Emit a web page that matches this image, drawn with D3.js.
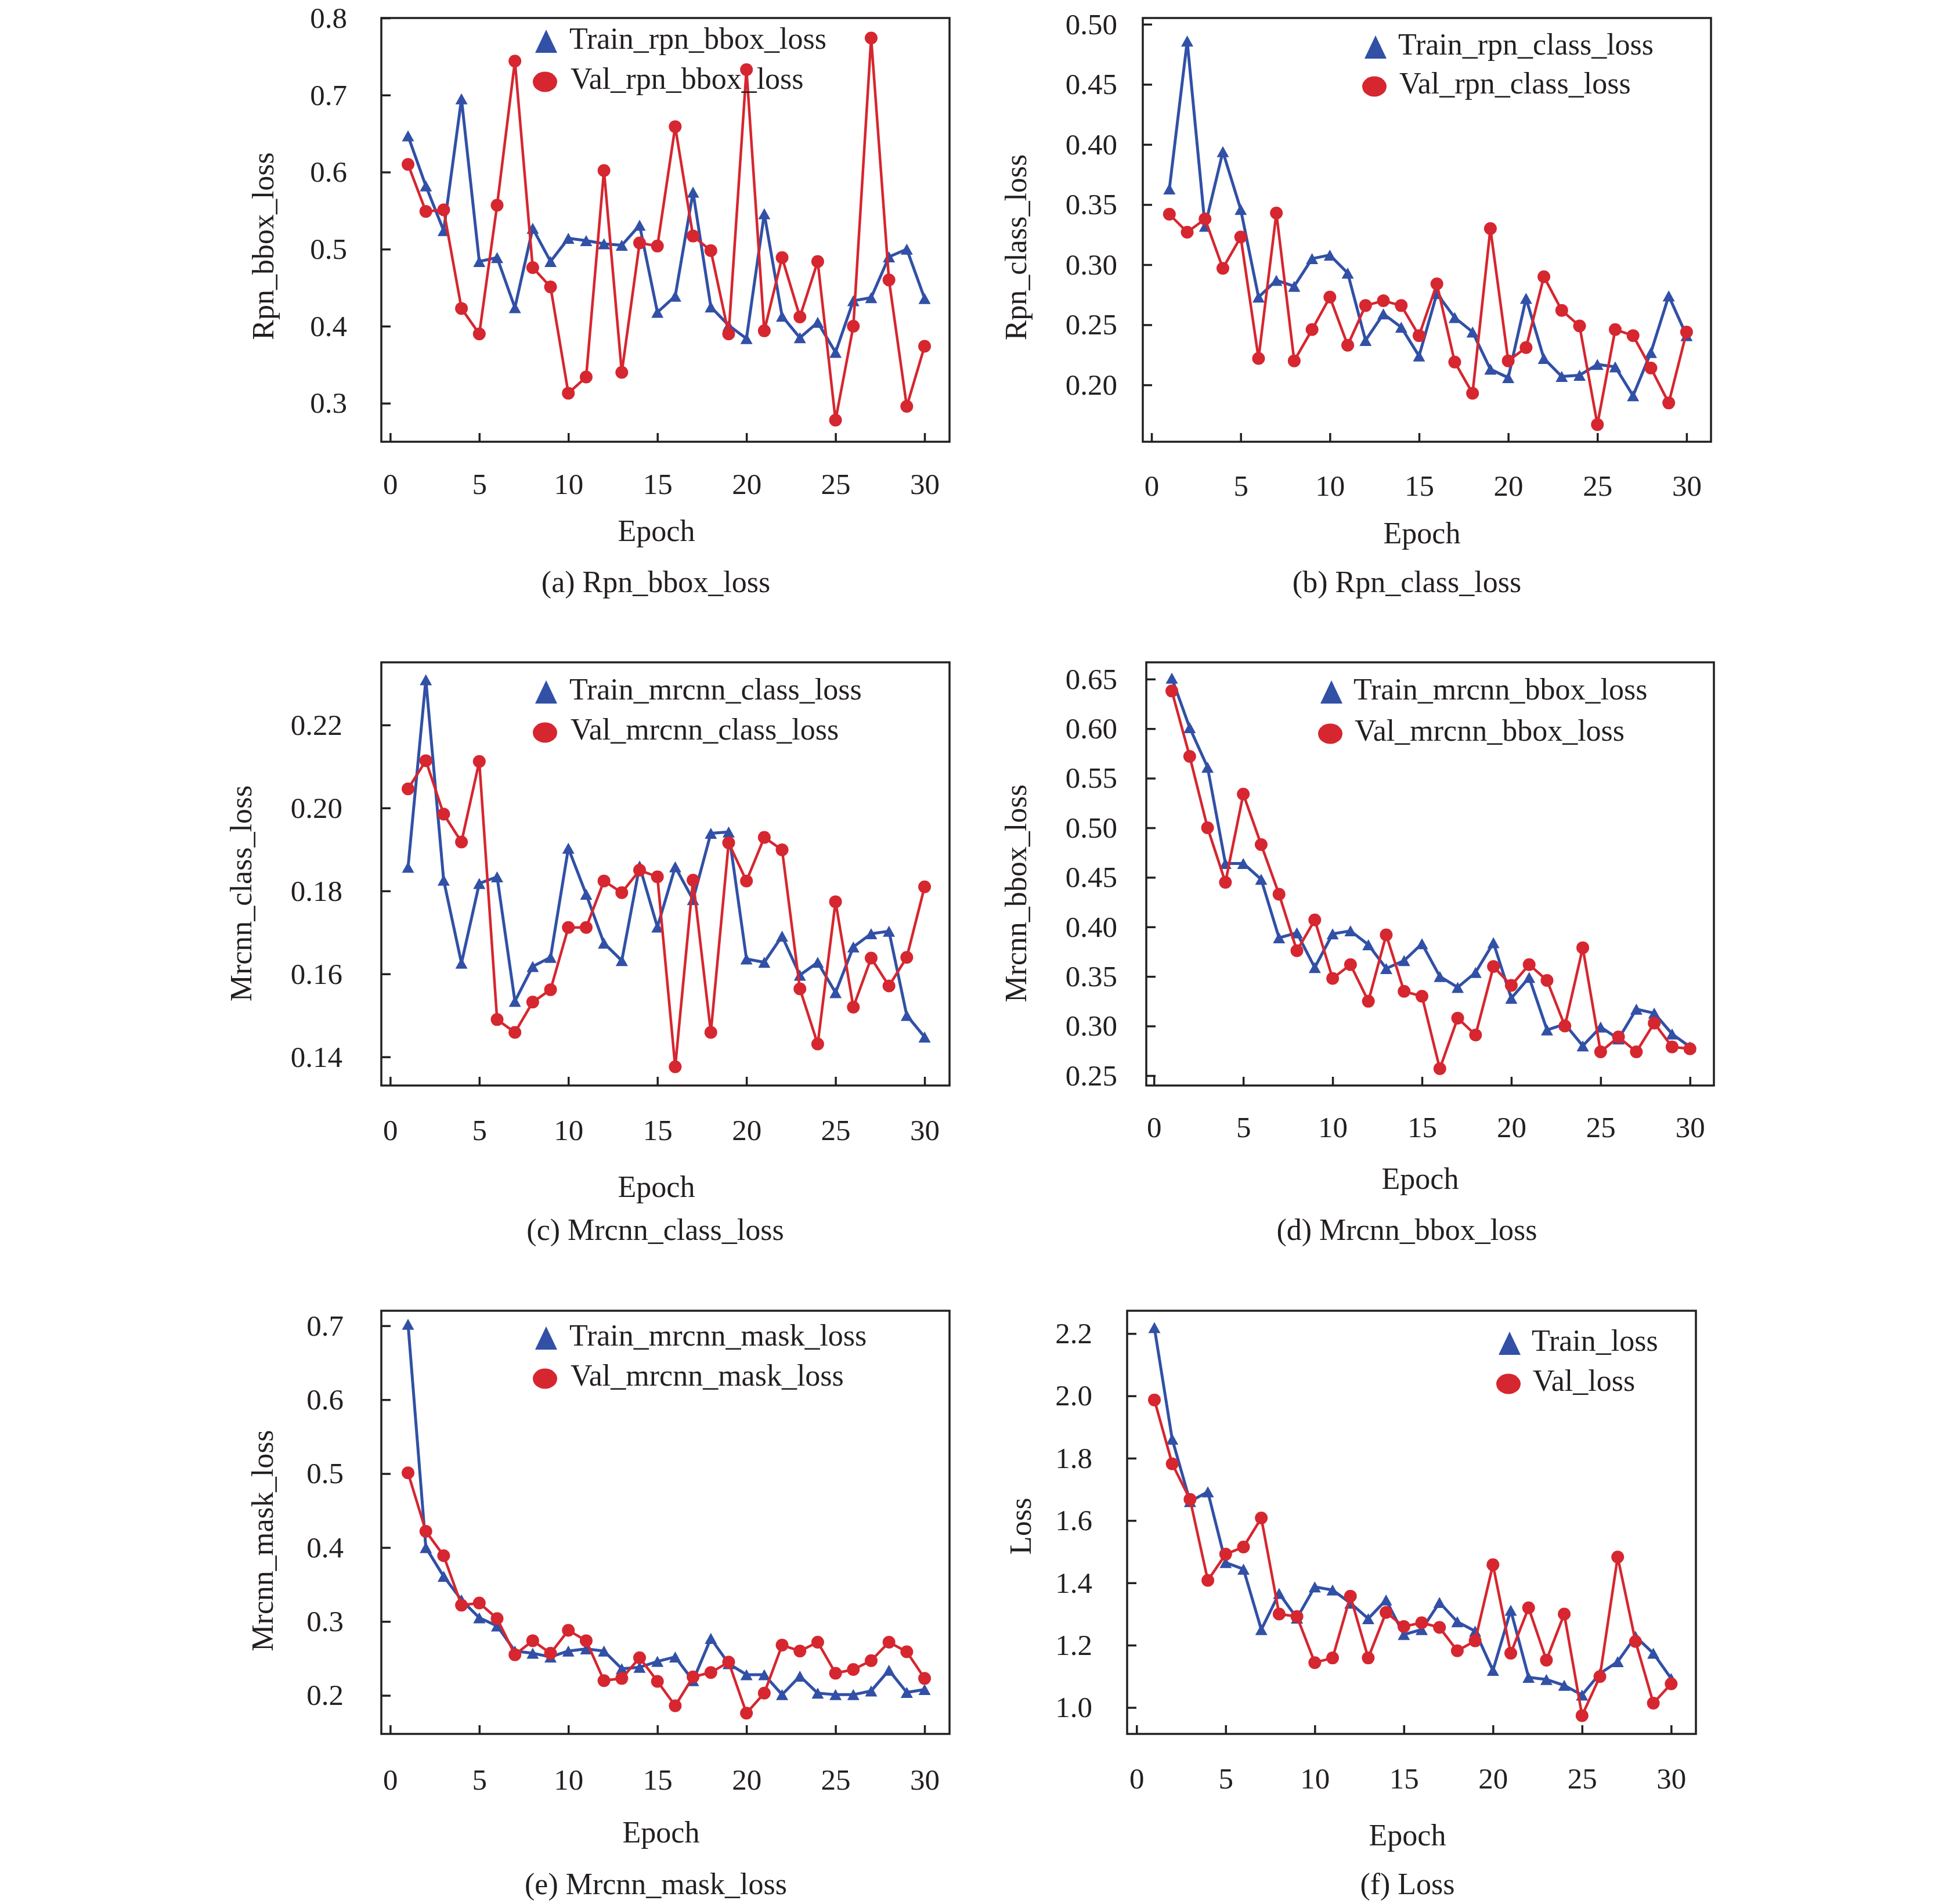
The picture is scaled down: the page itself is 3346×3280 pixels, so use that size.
<!DOCTYPE html>
<html><head><meta charset="utf-8">
<script src="https://cdn.jsdelivr.net/npm/d3@7"></script>
<style>html,body{margin:0;padding:0;background:#fff}</style>
</head><body>
<svg id="chart" width="3346" height="3280"></svg>
<script>
const epochs = d3.range(1, 31);
const xTicks = [0, 5, 10, 15, 20, 25, 30];

const trainRpnBbox = [0.647,0.582,0.524,0.695,0.484,0.489,0.424,0.527,0.484,0.514,0.511,0.507,0.505,0.531,0.418,0.439,0.574,0.425,0.401,0.384,0.546,0.413,0.385,0.405,0.366,0.433,0.437,0.490,0.500,0.436];
const valRpnBbox   = [0.610,0.549,0.551,0.423,0.390,0.557,0.744,0.476,0.451,0.313,0.334,0.602,0.340,0.508,0.504,0.659,0.517,0.498,0.390,0.733,0.394,0.489,0.412,0.484,0.278,0.400,0.774,0.460,0.296,0.374];

const trainRpnClass = [0.363,0.486,0.332,0.394,0.346,0.273,0.287,0.282,0.305,0.308,0.293,0.237,0.259,0.248,0.224,0.276,0.256,0.244,0.213,0.206,0.272,0.222,0.207,0.208,0.217,0.215,0.191,0.227,0.274,0.241];
const valRpnClass   = [0.342,0.327,0.338,0.297,0.323,0.222,0.343,0.220,0.246,0.273,0.233,0.266,0.270,0.266,0.241,0.284,0.219,0.193,0.330,0.220,0.231,0.290,0.262,0.249,0.167,0.246,0.241,0.214,0.185,0.244];

const trainMrcnnClass = [0.1857,0.2309,0.1826,0.1626,0.1818,0.1834,0.1534,0.1618,0.1640,0.1903,0.1792,0.1674,0.1632,0.1860,0.1713,0.1858,0.1779,0.1939,0.1942,0.1636,0.1628,0.1691,0.1597,0.1628,0.1555,0.1665,0.1697,0.1703,0.1500,0.1448];
const valMrcnnClass   = [0.2046,0.2114,0.1985,0.1918,0.2112,0.1490,0.1459,0.1532,0.1562,0.1712,0.1712,0.1824,0.1796,0.1850,0.1834,0.1376,0.1826,0.1459,0.1916,0.1824,0.1929,0.1899,0.1564,0.1431,0.1774,0.1520,0.1638,0.1571,0.1640,0.1810];

const trainMrcnnBbox = [0.651,0.601,0.561,0.464,0.464,0.448,0.389,0.394,0.359,0.393,0.396,0.382,0.358,0.366,0.383,0.350,0.339,0.354,0.384,0.328,0.349,0.296,0.302,0.280,0.299,0.287,0.317,0.313,0.292,0.279];
const valMrcnnBbox   = [0.638,0.572,0.500,0.445,0.534,0.483,0.433,0.376,0.407,0.348,0.362,0.325,0.392,0.335,0.330,0.257,0.308,0.291,0.360,0.341,0.362,0.346,0.300,0.379,0.274,0.289,0.274,0.303,0.279,0.277];

const trainMrcnnMask = [0.702,0.400,0.361,0.329,0.305,0.294,0.260,0.257,0.252,0.260,0.263,0.260,0.236,0.238,0.246,0.252,0.220,0.277,0.243,0.228,0.228,0.201,0.226,0.203,0.201,0.201,0.206,0.234,0.204,0.208];
const valMrcnnMask   = [0.501,0.422,0.389,0.322,0.325,0.304,0.255,0.274,0.257,0.288,0.274,0.220,0.223,0.251,0.219,0.186,0.225,0.231,0.245,0.176,0.203,0.268,0.260,0.272,0.230,0.235,0.247,0.272,0.259,0.223];

const trainLoss = [2.219,1.861,1.661,1.692,1.465,1.444,1.250,1.366,1.287,1.387,1.377,1.335,1.285,1.345,1.234,1.250,1.337,1.275,1.245,1.119,1.312,1.097,1.090,1.071,1.040,1.109,1.147,1.228,1.174,1.093];
const valLoss   = [1.987,1.782,1.668,1.408,1.492,1.515,1.608,1.300,1.292,1.144,1.159,1.357,1.159,1.305,1.260,1.272,1.257,1.182,1.214,1.458,1.174,1.320,1.152,1.300,0.974,1.099,1.483,1.212,1.014,1.076];

const yTicksA = [0.3,0.4,0.5,0.6,0.7,0.8];
const yTicksB = [0.20,0.25,0.30,0.35,0.40,0.45,0.50];
const yTicksC = [0.14,0.16,0.18,0.20,0.22];
const yTicksD = [0.25,0.30,0.35,0.40,0.45,0.50,0.55,0.60,0.65];
const yTicksE = [0.2,0.3,0.4,0.5,0.6,0.7];
const yTicksF = [1.0,1.2,1.4,1.6,1.8,2.0,2.2];

const panels = [
  {train: trainRpnBbox, val: valRpnBbox, trainName: "Train_rpn_bbox_loss", valName: "Val_rpn_bbox_loss",
   yLabel: "Rpn_bbox_loss", caption: "(a) Rpn_bbox_loss", yTicks: yTicksA, fmt: ".1f",
   xDomain: [-0.5, 31.4], yDomain: [0.25, 0.80], L: 657, R: 1636, T: 31, B: 761,
   yPad: 59, xBase: 90, yTitle: [471, 424], epoch: [1131, 932], cap: [1130, 1020],
   lg: {mx: 941, tx: 981, y1: 71, y2: 141}},
  {train: trainRpnClass, val: valRpnClass, trainName: "Train_rpn_class_loss", valName: "Val_rpn_class_loss",
   yLabel: "Rpn_class_loss", caption: "(b) Rpn_class_loss", yTicks: yTicksB, fmt: ".2f",
   xDomain: [-0.49, 31.37], yDomain: [0.1527, 0.5052], L: 1969, R: 2948, T: 31, B: 761,
   yPad: 44, xBase: 93, yTitle: [1768, 426], epoch: [2450, 936], cap: [2424, 1020],
   lg: {mx: 2370, tx: 2409, y1: 81, y2: 149}},
  {train: trainMrcnnClass, val: valMrcnnClass, trainName: "Train_mrcnn_class_loss", valName: "Val_mrcnn_class_loss",
   yLabel: "Mrcnn_class_loss", caption: "(c) Mrcnn_class_loss", yTicks: yTicksC, fmt: ".2f",
   xDomain: [-0.5, 31.4], yDomain: [0.1331, 0.2351], L: 657, R: 1636, T: 1141, B: 1870,
   yPad: 67, xBase: 94, yTitle: [433, 1539], epoch: [1131, 2062], cap: [1129, 2136],
   lg: {mx: 941, tx: 981, y1: 1192, y2: 1262}},
  {train: trainMrcnnBbox, val: valMrcnnBbox, trainName: "Train_mrcnn_bbox_loss", valName: "Val_mrcnn_bbox_loss",
   yLabel: "Mrcnn_bbox_loss", caption: "(d) Mrcnn_bbox_loss", yTicks: yTicksD, fmt: ".2f",
   xDomain: [-0.43, 31.34], yDomain: [0.240, 0.6669], L: 1975, R: 2953, T: 1141, B: 1870,
   yPad: 50, xBase: 89, yTitle: [1768, 1539], epoch: [2447, 2048], cap: [2424, 2136],
   lg: {mx: 2294, tx: 2332, y1: 1192, y2: 1264}},
  {train: trainMrcnnMask, val: valMrcnnMask, trainName: "Train_mrcnn_mask_loss", valName: "Val_mrcnn_mask_loss",
   yLabel: "Mrcnn_mask_loss", caption: "(e) Mrcnn_mask_loss", yTicks: yTicksE, fmt: ".1f",
   xDomain: [-0.5, 31.4], yDomain: [0.1479, 0.7203], L: 657, R: 1636, T: 2258, B: 2987,
   yPad: 65, xBase: 96, yTitle: [470, 2654], epoch: [1139, 3174], cap: [1130, 3263],
   lg: {mx: 941, tx: 981, y1: 2305, y2: 2375}},
  {train: trainLoss, val: valLoss, trainName: "Train_loss", valName: "Val_loss",
   yLabel: "Loss", caption: "(f) Loss", yTicks: yTicksF, fmt: ".1f",
   xDomain: [-0.53, 31.39], yDomain: [0.9152, 2.2732], L: 1942, R: 2922, T: 2258, B: 2987,
   yPad: 60, xBase: 94, yTitle: [1776, 2629], epoch: [2425, 3179], cap: [2425, 3263],
   lg: {mx: 2601, tx: 2639, y1: 2314, y2: 2384}}
];

const BLUE = "#3150a6", RED = "#d6262f", INK = "#231f20";
const FONT = "'Liberation Serif', 'Times New Roman', serif";
const FS = 52, TFS = 51;

const svg = d3.select("#chart");
svg.append("rect").attr("width", 3346).attr("height", 3280).attr("fill", "#fff");

function triPath(w, h) {
  return `M0,${-h/2}L${w/2},${h/2}L${-w/2},${h/2}Z`;
}

panels.forEach(p => {
  const g = svg.append("g");
  const x = d3.scaleLinear().domain(p.xDomain).range([p.L, p.R]);
  const y = d3.scaleLinear().domain(p.yDomain).range([p.B, p.T]);

  const xAxis = d3.axisBottom(x).tickValues(xTicks).tickSizeInner(-15).tickSizeOuter(0)
    .tickPadding(p.xBase - 0.71 * TFS).tickFormat(d3.format("d"));
  const gx = g.append("g").attr("transform", `translate(0,${p.B})`).call(xAxis);
  const yAxis = d3.axisLeft(y).tickValues(p.yTicks).tickSizeInner(-16).tickSizeOuter(0)
    .tickPadding(p.yPad).tickFormat(d3.format(p.fmt));
  const gy = g.append("g").attr("transform", `translate(${p.L},0)`).call(yAxis);
  [gx, gy].forEach(a => {
    a.select(".domain").remove();
    a.selectAll("line").attr("stroke", INK).attr("stroke-width", 3.5);
    a.selectAll("text").attr("fill", INK).style("font-family", FONT).style("font-size", TFS + "px");
  });

  g.append("rect").attr("x", p.L).attr("y", p.T).attr("width", p.R - p.L).attr("height", p.B - p.T)
    .attr("fill", "none").attr("stroke", INK).attr("stroke-width", 3.5);

  const line = d3.line().x((d, i) => x(epochs[i])).y(d => y(d));

  g.append("path").datum(p.train).attr("d", line).attr("fill", "none")
    .attr("stroke", BLUE).attr("stroke-width", 5).attr("stroke-linejoin", "round");
  g.selectAll(".tri").data(p.train).enter().append("path")
    .attr("d", triPath(21, 19))
    .attr("transform", (d, i) => `translate(${x(epochs[i])},${y(d)})`)
    .attr("fill", BLUE);

  g.append("path").datum(p.val).attr("d", line).attr("fill", "none")
    .attr("stroke", RED).attr("stroke-width", 4.5).attr("stroke-linejoin", "round");
  g.selectAll(".dot").data(p.val).enter().append("circle")
    .attr("cx", (d, i) => x(epochs[i])).attr("cy", d => y(d)).attr("r", 11)
    .attr("fill", RED);

  g.append("path").attr("d", triPath(38, 40)).attr("transform", `translate(${p.lg.mx},${p.lg.y1})`).attr("fill", BLUE);
  g.append("ellipse").attr("cx", p.lg.mx - 2).attr("cy", p.lg.y2).attr("rx", 21).attr("ry", 17.5).attr("fill", RED);
  g.append("text").attr("x", p.lg.tx).attr("y", p.lg.y1 + 13).text(p.trainName)
    .attr("fill", INK).style("font-family", FONT).style("font-size", FS + "px");
  g.append("text").attr("x", p.lg.tx + 2).attr("y", p.lg.y2 + 12).text(p.valName)
    .attr("fill", INK).style("font-family", FONT).style("font-size", FS + "px");

  g.append("text").attr("transform", `translate(${p.yTitle[0]},${p.yTitle[1]}) rotate(-90)`)
    .attr("text-anchor", "middle").text(p.yLabel)
    .attr("fill", INK).style("font-family", FONT).style("font-size", FS + "px");
  g.append("text").attr("x", p.epoch[0]).attr("y", p.epoch[1]).attr("text-anchor", "middle").text("Epoch")
    .attr("fill", INK).style("font-family", FONT).style("font-size", FS + "px");
  g.append("text").attr("x", p.cap[0]).attr("y", p.cap[1]).attr("text-anchor", "middle").text(p.caption)
    .attr("fill", INK).style("font-family", FONT).style("font-size", FS + "px");
});
</script>
</body></html>
